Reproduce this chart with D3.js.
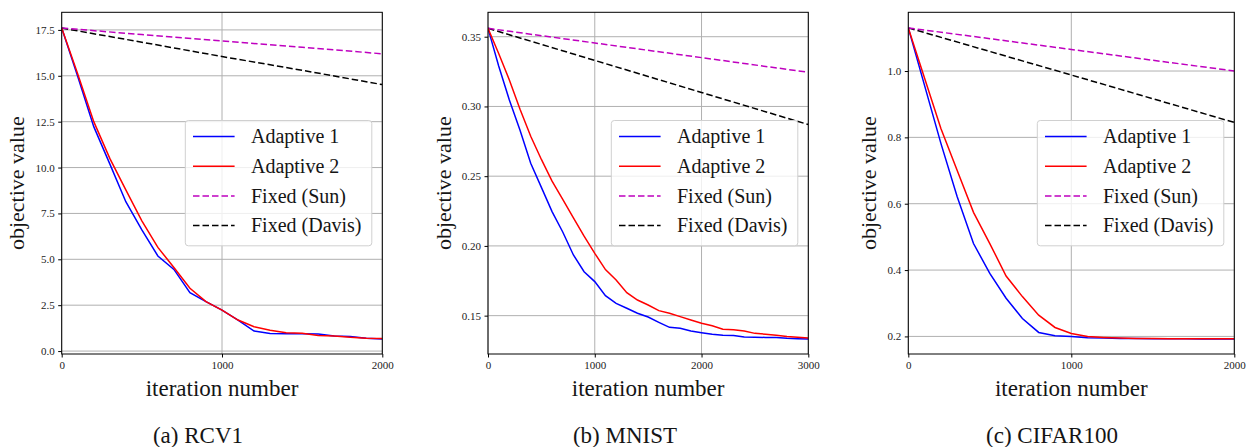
<!DOCTYPE html>
<html lang="en">
<head>
<meta charset="utf-8">
<title>Objective value vs iteration</title>
<script src="https://cdn.jsdelivr.net/npm/d3@7"></script>
<style>
    body { margin: 0; background: #fff; }
</style>
</head>
<body>
<div id="chart"></div>
<script>
    // ---- data ----
    var seriesNames = ["Adaptive 1", "Adaptive 2", "Fixed (Sun)", "Fixed (Davis)"];
    var captions = ["(a) RCV1", "(b) MNIST", "(c) CIFAR100"];

    var rcvIter = [0, 100, 200, 300, 400, 500, 600, 700, 800, 900, 1000, 1100, 1200, 1300, 1400, 1500, 1600, 1700, 1800, 1900, 2000];
    var rcvAdaptive1 = [17.6, 14.96, 12.23, 10.2, 8.14, 6.6, 5.18, 4.45, 3.18, 2.69, 2.23, 1.69, 1.09, 0.96, 0.95, 0.95, 0.93, 0.82, 0.8, 0.7, 0.66];
    var rcvAdaptive2 = [17.6, 15.1, 12.5, 10.5, 8.78, 7.1, 5.65, 4.55, 3.42, 2.69, 2.23, 1.69, 1.33, 1.14, 1.0, 0.97, 0.85, 0.82, 0.75, 0.7, 0.68];
    var rcvFixedIter = [0, 500, 1000, 1500, 2000];
    var rcvSun = [17.6, 17.25, 16.9, 16.55, 16.2];
    var rcvDavis = [17.6, 16.83, 16.05, 15.3, 14.52];
    var rcvXTicks = [0, 1000, 2000];
    var rcvYTicks = [0, 2.5, 5, 7.5, 10, 12.5, 15, 17.5];

    var mnistIter = [0, 100, 200, 300, 400, 500, 600, 700, 800, 900, 1000, 1100, 1200, 1300, 1400, 1500, 1600, 1700, 1800, 1900, 2000,
        2100, 2200, 2300, 2400, 2500, 2600, 2700, 2800, 2900, 3000];
    var mnistAdaptive1 = [0.356, 0.329, 0.3046, 0.283, 0.2592, 0.242, 0.2246, 0.21, 0.1935, 0.1815, 0.1744, 0.1643, 0.1588, 0.1553, 0.1517, 0.149,
        0.1452, 0.1416, 0.1409, 0.139, 0.1378, 0.1366, 0.136, 0.1358, 0.1347, 0.1345, 0.1344, 0.1343, 0.1338, 0.1335, 0.1333];
    var mnistAdaptive2 = [0.356, 0.338, 0.319, 0.298, 0.2786, 0.262, 0.2464, 0.2333, 0.2201, 0.207, 0.1947, 0.183, 0.1756, 0.1665, 0.1612, 0.1576,
        0.1536, 0.1517, 0.1493, 0.1469, 0.1445, 0.1427, 0.1403, 0.1398, 0.139, 0.1373, 0.1367, 0.136, 0.135, 0.1345, 0.134];
    var mnistFixedIter = [0, 1000, 2000, 3000];
    var mnistSun = [0.356, 0.3455, 0.335, 0.3245];
    var mnistDavis = [0.356, 0.333, 0.31, 0.287];
    var mnistXTicks = [0, 1000, 2000, 3000];
    var mnistYTicks = [0.15, 0.2, 0.25, 0.3, 0.35];

    var cifarIter = [0, 100, 200, 300, 400, 500, 600, 700, 800, 900, 1000, 1100, 1200, 1300, 1400, 1500, 1600, 1700, 1800, 1900, 2000];
    var cifarAdaptive1 = [1.13, 0.956, 0.782, 0.621, 0.48, 0.39, 0.315, 0.254, 0.212, 0.202, 0.2, 0.196, 0.195, 0.194, 0.194, 0.193, 0.193, 0.193, 0.192, 0.192, 0.192];
    var cifarAdaptive2 = [1.13, 0.978, 0.827, 0.7, 0.574, 0.48, 0.382, 0.32, 0.264, 0.227, 0.209, 0.2, 0.197, 0.195, 0.194, 0.194, 0.193, 0.193, 0.193, 0.193, 0.193];
    var cifarFixedIter = [0, 1000, 2000];
    var cifarSun = [1.13, 1.065, 1.0];
    var cifarDavis = [1.13, 0.988, 0.845];
    var cifarXTicks = [0, 1000, 2000];
    var cifarYTicks = [0.2, 0.4, 0.6, 0.8, 1.0];

    // ---- layout ----
    var w = 1249;
    var h = 447;
    var plotTop = 12.3;
    var plotBottom = 354;
    var serif = '"Liberation Serif", "DejaVu Serif", serif';
    var colors = ["#0000ff", "#ff0000", "#bf00bf", "#000000"];
    var dashes = [null, null, "6.5,3", "6.5,3"];

    var panels = [
        {left: 61.7, right: 382.3, xMax: 2000, yDomain: [-0.16, 18.46], fmt: ".1f", ylabX: 17, capX: 198,
            xTicks: rcvXTicks, yTicks: rcvYTicks,
            lines: [[rcvIter, rcvAdaptive1], [rcvIter, rcvAdaptive2], [rcvFixedIter, rcvSun], [rcvFixedIter, rcvDavis]]},
        {left: 488, right: 808.3, xMax: 3000, yDomain: [0.1225, 0.3675], fmt: ".2f", ylabX: 444, capX: 625,
            xTicks: mnistXTicks, yTicks: mnistYTicks,
            lines: [[mnistIter, mnistAdaptive1], [mnistIter, mnistAdaptive2], [mnistFixedIter, mnistSun], [mnistFixedIter, mnistDavis]]},
        {left: 908.3, right: 1234.3, xMax: 2000, yDomain: [0.147, 1.177], fmt: ".1f", ylabX: 869, capX: 1052,
            xTicks: cifarXTicks, yTicks: cifarYTicks,
            lines: [[cifarIter, cifarAdaptive1], [cifarIter, cifarAdaptive2], [cifarFixedIter, cifarSun], [cifarFixedIter, cifarDavis]]}
    ];

    var svg = d3.select("#chart")
        .append("svg")
        .attr("width", w)
        .attr("height", h)
        .style("font-family", serif);

    function addText(sel, size) {
        return sel.append("text")
            .style("font-family", serif)
            .style("font-size", size + "px")
            .attr("fill", "#151515");
    }

    panels.forEach(function (p, k) {
        var xScale = d3.scaleLinear().domain([0, p.xMax]).range([p.left, p.right]);
        var yScale = d3.scaleLinear().domain(p.yDomain).range([plotBottom, plotTop]);
        var clipId = "clip" + k;

        svg.append("clipPath").attr("id", clipId)
            .append("rect")
            .attr("x", p.left).attr("y", plotTop)
            .attr("width", p.right - p.left).attr("height", plotBottom - plotTop);

        // grid
        var grid = svg.append("g");
        grid.selectAll("line.gx")
            .data(p.xTicks)
            .enter()
            .append("line")
            .attr("x1", function (d) { return xScale(d); })
            .attr("x2", function (d) { return xScale(d); })
            .attr("y1", plotTop).attr("y2", plotBottom)
            .attr("stroke", "#b0b0b0").attr("stroke-width", 1);
        grid.selectAll("line.gy")
            .data(p.yTicks)
            .enter()
            .append("line")
            .attr("y1", function (d) { return yScale(d); })
            .attr("y2", function (d) { return yScale(d); })
            .attr("x1", p.left).attr("x2", p.right)
            .attr("stroke", "#b0b0b0").attr("stroke-width", 1);

        // curves
        var line = d3.line()
            .x(function (d) { return xScale(d[0]); })
            .y(function (d) { return yScale(d[1]); });

        var curves = svg.append("g").attr("clip-path", "url(#" + clipId + ")");
        // fixed lines first, adaptive on top
        [3, 2, 0, 1].forEach(function (i) {
            var pts = p.lines[i][0].map(function (x, j) { return [x, p.lines[i][1][j]]; });
            curves.append("path")
                .datum(pts)
                .attr("d", line)
                .attr("fill", "none")
                .attr("stroke", colors[i])
                .attr("stroke-width", 1.5)
                .attr("stroke-dasharray", dashes[i]);
        });

        // axes
        var xAxis = d3.axisBottom(xScale).tickValues(p.xTicks).tickSize(3.5).tickPadding(3.5).tickFormat(d3.format("d"));
        var yAxis = d3.axisLeft(yScale).tickValues(p.yTicks).tickSize(3.5).tickPadding(3.5).tickFormat(d3.format(p.fmt));

        var gx = svg.append("g")
            .attr("transform", "translate(0," + plotBottom + ")")
            .call(xAxis);
        var gy = svg.append("g")
            .attr("transform", "translate(" + p.left + ",0)")
            .call(yAxis);
        [gx, gy].forEach(function (g) {
            g.attr("font-family", null);
            g.select(".domain").remove();
            g.selectAll("line").attr("stroke", "#000");
            g.selectAll("text")
                .style("font-family", serif)
                .style("font-size", "11px")
                .attr("fill", "#222");
        });

        svg.append("rect")
            .attr("x", p.left).attr("y", plotTop)
            .attr("width", p.right - p.left).attr("height", plotBottom - plotTop)
            .attr("fill", "none").attr("stroke", "#000").attr("stroke-width", 1);

        // legend, centre right
        var lw = 186.5, lh = 125.3;
        var lg = svg.append("g")
            .attr("transform", "translate(" + (p.right - 10.5 - lw) + "," + ((plotTop + plotBottom) / 2 - lh / 2) + ")");
        lg.append("rect")
            .attr("width", lw).attr("height", lh)
            .attr("rx", 3)
            .attr("fill", "#fff").attr("fill-opacity", 0.8)
            .attr("stroke", "#d0d0d0").attr("stroke-width", 1);
        seriesNames.forEach(function (name, i) {
            var ry = 16 + i * 29.7;
            lg.append("line")
                .attr("x1", 7.7).attr("x2", 49.3)
                .attr("y1", ry).attr("y2", ry)
                .attr("stroke", colors[i]).attr("stroke-width", 1.5)
                .attr("stroke-dasharray", dashes[i]);
            addText(lg, 20)
                .attr("x", 65.7).attr("y", ry)
                .attr("dy", "0.33em")
                .text(name);
        });

        // axis labels
        addText(svg, 23)
            .attr("text-anchor", "middle")
            .attr("x", (p.left + p.right) / 2)
            .attr("y", 396)
            .text("iteration number");

        addText(svg, 22)
            .attr("text-anchor", "middle")
            .attr("transform", "translate(" + (p.ylabX + 7) + "," + ((plotTop + plotBottom) / 2) + ")rotate(-90)")
            .text("objective value");

        addText(svg, 23)
            .attr("text-anchor", "middle")
            .attr("x", p.capX)
            .attr("y", 443)
            .text(captions[k]);
    });
</script>
</body>
</html>
